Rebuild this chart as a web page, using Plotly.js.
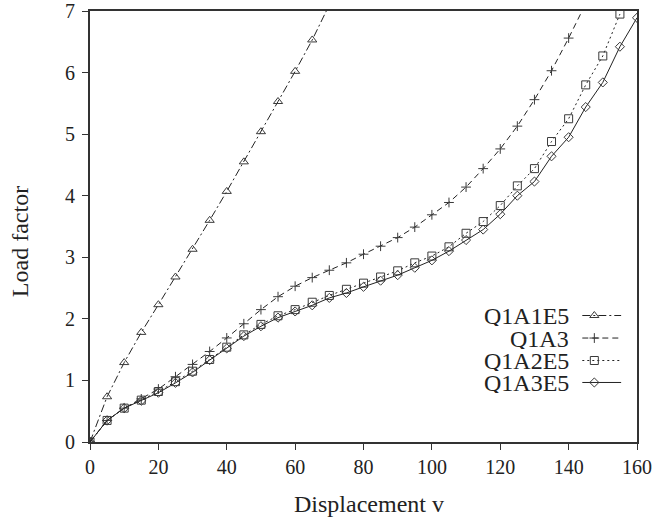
<!DOCTYPE html>
<html>
<head>
<meta charset="utf-8">
<script src="https://cdn.plot.ly/plotly-3.0.1.min.js"></script>
<style>html,body{margin:0;padding:0;background:#fff;}#chart{width:652px;height:524px;}</style>
</head>
<body>
<div id="chart"></div>
<script>
// Data
var seriesNames = ["Q1A1E5", "Q1A3", "Q1A2E5", "Q1A3E5"];

var xQ1A1E5 = [0, 5, 10, 15, 20, 25, 30, 35, 40, 45, 50, 55, 60, 65, 70];
var yQ1A1E5 = [0, 0.735, 1.29, 1.78, 2.23, 2.68, 3.13, 3.60, 4.07, 4.55, 5.04, 5.53, 6.02, 6.53, 7.1];

var xQ1A3 = [0, 5, 10, 15, 20, 25, 30, 35, 40, 45, 50, 55, 60, 65, 70, 75, 80, 85, 90, 95, 100, 105, 110, 115, 120, 125, 130, 135, 140, 145];
var yQ1A3 = [0, 0.35, 0.55, 0.70, 0.86, 1.06, 1.26, 1.47, 1.69, 1.92, 2.15, 2.36, 2.53, 2.67, 2.79, 2.91, 3.05, 3.18, 3.32, 3.49, 3.69, 3.89, 4.14, 4.44, 4.76, 5.13, 5.56, 6.03, 6.56, 7.12];

var xQ1A2E5 = [0, 5, 10, 15, 20, 25, 30, 35, 40, 45, 50, 55, 60, 65, 70, 75, 80, 85, 90, 95, 100, 105, 110, 115, 120, 125, 130, 135, 140, 145, 150, 155];
var yQ1A2E5 = [0, 0.35, 0.55, 0.68, 0.82, 0.98, 1.15, 1.34, 1.54, 1.74, 1.91, 2.05, 2.15, 2.27, 2.38, 2.48, 2.58, 2.68, 2.78, 2.91, 3.02, 3.17, 3.39, 3.58, 3.84, 4.16, 4.44, 4.88, 5.25, 5.80, 6.27, 6.95];

var xQ1A3E5 = [0, 5, 10, 15, 20, 25, 30, 35, 40, 45, 50, 55, 60, 65, 70, 75, 80, 85, 90, 95, 100, 105, 110, 115, 120, 125, 130, 135, 140, 145, 150, 155, 160];
var yQ1A3E5 = [0, 0.35, 0.55, 0.67, 0.80, 0.96, 1.13, 1.33, 1.52, 1.72, 1.88, 2.02, 2.12, 2.22, 2.34, 2.42, 2.52, 2.62, 2.71, 2.83, 2.95, 3.10, 3.28, 3.45, 3.70, 4.00, 4.23, 4.64, 4.95, 5.44, 5.84, 6.42, 6.89];

var xTicks = [0, 20, 40, 60, 80, 100, 120, 140, 160];
var yTicks = [0, 1, 2, 3, 4, 5, 6, 7];
var xTitle = "Displacement v";
var yTitle = "Load factor";

// Styles
var FONT = "Liberation Serif";
var INK = "#222";
var MARK = "#3a3a3a";
var styles = [
  {dash: "8px,3px,2px,3px", symbol: "triangle-up-open", size: 8},
  {dash: "6px,4px", symbol: "cross-thin-open", size: 7},
  {dash: "2px,3px", symbol: "square-open", size: 8},
  {dash: "solid", symbol: "diamond-open", size: 7}
];
var xs = [xQ1A1E5, xQ1A3, xQ1A2E5, xQ1A3E5];
var ys = [yQ1A1E5, yQ1A3, yQ1A2E5, yQ1A3E5];

var traces = [];
for (var i = 0; i < 4; i++) {
  traces.push({
    x: xs[i], y: ys[i], type: "scatter", mode: "lines+markers",
    name: seriesNames[i], showlegend: false,
    line: {color: INK, width: 1, dash: styles[i].dash},
    marker: {symbol: styles[i].symbol, size: styles[i].size, color: MARK, line: {color: MARK, width: 1}}
  });
}

// Custom legend (text right-aligned, sample to its right) in overlay axes spanning the plot area
var legRowY = [0.2935, 0.2412, 0.1891, 0.1381];
var legTextX = 0.877;
var legLineX0 = 0.900, legLineX1 = 0.971, legMarkX = 0.922;
var annotations = [];
for (var j = 0; j < 4; j++) {
  traces.push({
    x: [legLineX0, legLineX1], y: [legRowY[j], legRowY[j]], xaxis: "x2", yaxis: "y2",
    type: "scatter", mode: "lines", showlegend: false, hoverinfo: "skip",
    line: {color: INK, width: 1, dash: styles[j].dash}
  });
  traces.push({
    x: [legMarkX], y: [legRowY[j]], xaxis: "x2", yaxis: "y2",
    type: "scatter", mode: "markers", showlegend: false, hoverinfo: "skip",
    marker: {symbol: styles[j].symbol, size: styles[j].size, color: MARK, line: {color: MARK, width: 1}}
  });
  annotations.push({
    xref: "paper", yref: "paper", x: legTextX, y: legRowY[j], xanchor: "right", yanchor: "middle",
    text: seriesNames[j], showarrow: false, borderpad: 0, height: 21,
    font: {family: FONT, size: 24, color: INK}
  });
}
annotations.push({
  xref: "paper", yref: "paper", x: 0.51, y: -0.145, xanchor: "center", yanchor: "middle",
  text: xTitle, showarrow: false, font: {family: FONT, size: 24, color: INK}
});
annotations.push({
  xref: "paper", yref: "paper", x: -0.128, y: 0.466, xanchor: "center", yanchor: "middle",
  text: yTitle, textangle: -90, showarrow: false, font: {family: FONT, size: 24, color: INK}
});

var axisCommon = {
  showgrid: false, zeroline: false, showline: true, mirror: true,
  linecolor: "#333", linewidth: 2, ticks: "outside", ticklen: 6, tickwidth: 1, tickcolor: "#333",
  tickfont: {family: FONT, size: 20, color: INK}
};

var layout = {
  width: 652, height: 524,
  margin: {l: 90, r: 15, t: 11, b: 82},
  paper_bgcolor: "#fff", plot_bgcolor: "#fff",
  font: {family: FONT},
  showlegend: false,
  xaxis: Object.assign({}, axisCommon, {range: [0, 160], tickvals: xTicks, ticktext: xTicks.map(String)}),
  yaxis: Object.assign({}, axisCommon, {range: [0, 7], tickvals: yTicks, ticktext: yTicks.map(String), ticklabelstandoff: 3}),
  xaxis2: {overlaying: "x", range: [0, 1], visible: false, fixedrange: true},
  yaxis2: {overlaying: "y", range: [0, 1], visible: false, fixedrange: true},
  annotations: annotations
};

Plotly.newPlot("chart", traces, layout, {displayModeBar: false, staticPlot: true});
</script>
</body>
</html>
